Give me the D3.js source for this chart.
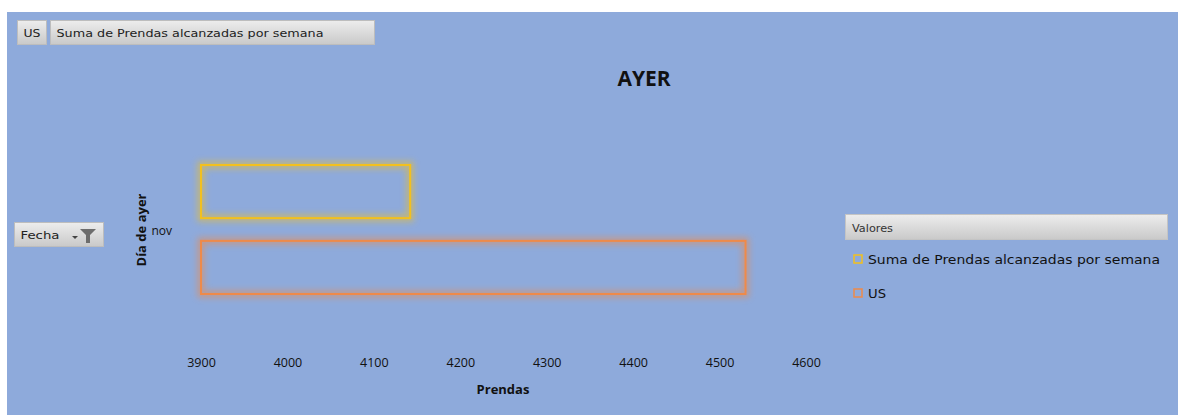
<!DOCTYPE html>
<html>
<head>
<meta charset="utf-8">
<script src="https://cdn.jsdelivr.net/npm/d3@7"></script>
<style>
  html, body { margin: 0; padding: 0; background: #ffffff; }
  svg { display: block; }
</style>
</head>
<body>
<svg id="chart" width="1178" height="415"></svg>
<script>
// Chart data
const categories = ["nov"];
const seriesNames = ["Suma de Prendas alcanzadas por semana", "US"];
const seriesValues = [4142, 4530];          // one value per series for "nov"
const seriesColors = ["#f2c01e", "#ee8a4a"];
const xTicks = [3900, 4000, 4100, 4200, 4300, 4400, 4500, 4600];

const svg = d3.select("#chart");
const font = "'Open Sans', 'DejaVu Sans', sans-serif";
const uiFont = "'DejaVu Sans', sans-serif";

// Background panel
svg.append("rect").attr("x", 7).attr("y", 12).attr("width", 1171).attr("height", 403)
  .attr("fill", "#8eaadb");

// Glow filter for bar outlines
const defs = svg.append("defs");
const f = defs.append("filter").attr("id", "glow")
  .attr("x", "-10%").attr("y", "-40%").attr("width", "120%").attr("height", "180%");
f.append("feGaussianBlur").attr("stdDeviation", 3);

// Button gradient
const g = defs.append("linearGradient").attr("id", "btn").attr("x1", 0).attr("y1", 0).attr("x2", 0).attr("y2", 1);
g.append("stop").attr("offset", "0%").attr("stop-color", "#ededed");
g.append("stop").attr("offset", "100%").attr("stop-color", "#c9c9c9");

function button(x, y, w, h, label, textLen) {
  svg.append("rect").attr("x", x).attr("y", y).attr("width", w).attr("height", h)
    .attr("fill", "url(#btn)").attr("stroke", "#bdbdbd").attr("stroke-width", 1);
  const t = svg.append("text").attr("x", x + 6).attr("y", y + h / 2 + 4)
    .attr("font-family", uiFont).attr("font-size", 11).attr("fill", "#222")
    .text(label);
  if (textLen) t.attr("textLength", textLen).attr("lengthAdjust", "spacingAndGlyphs");
}

// Field buttons (top row)
button(17.5, 20.5, 29, 24, "US", 17);
button(50.5, 20.5, 324, 24, "Suma de Prendas alcanzadas por semana", 267);

// Filter button on the left
button(14.5, 222.5, 89, 24, "Fecha", 39);
const fx = 72, fy = 229;
svg.append("path").attr("d", `M${fx},${fy + 7}h6l-3,3z`).attr("fill", "#444");
svg.append("path")
  .attr("d", `M${fx + 8},${fy}h16l-6,6v8h-4v-8z`)
  .attr("fill", "#6d6d6d");

// Scales
const x = d3.scaleLinear().domain([3900, 4600]).range([201, 806]);
const y = d3.scaleBand().domain(categories).range([140, 320]);
const ySub = d3.scaleBand().domain(seriesNames).range([165, 294]).paddingInner(0.30);

// Title
svg.append("text").attr("x", 644).attr("y", 86).attr("text-anchor", "middle")
  .attr("font-family", font).attr("font-weight", "bold").attr("font-size", 21)
  .attr("fill", "#111").text("AYER");

// Bars (outline only, with glow)
const bars = svg.append("g");
categories.forEach(cat => {
  seriesNames.forEach((s, i) => {
    const x0 = x(3900), x1 = x(seriesValues[i]);
    const yy = ySub(s), h = ySub.bandwidth();
    bars.append("rect").attr("x", x0).attr("y", yy).attr("width", x1 - x0).attr("height", h)
      .attr("fill", "none").attr("stroke", seriesColors[i]).attr("stroke-width", 7)
      .attr("opacity", 0.55).attr("filter", "url(#glow)");
    bars.append("rect").attr("x", x0).attr("y", yy).attr("width", x1 - x0).attr("height", h)
      .attr("fill", "none").attr("stroke", seriesColors[i]).attr("stroke-width", 2);
  });
});

// X axis (labels only)
const xAxis = d3.axisBottom(x).tickValues(xTicks).tickSize(0).tickFormat(d3.format("d"));
const xg = svg.append("g").attr("transform", "translate(0,355)").call(xAxis);
xg.select(".domain").remove();
xg.selectAll("text").attr("font-family", font).attr("font-size", 12.5).attr("fill", "#111");

svg.append("text").attr("x", 503).attr("y", 394).attr("text-anchor", "middle")
  .attr("font-family", font).attr("font-weight", "bold").attr("font-size", 13)
  .attr("fill", "#111").text("Prendas");

// Y axis (category label only)
const yAxis = d3.axisLeft(y).tickSize(0).tickPadding(0);
const yg = svg.append("g").attr("transform", "translate(172,0)").call(yAxis);
yg.select(".domain").remove();
yg.selectAll("text").attr("font-family", font).attr("font-size", 12).attr("fill", "#111")
  .attr("dy", "0.45em");

svg.append("text").attr("transform", "translate(146,230) rotate(-90)").attr("text-anchor", "middle")
  .attr("font-family", font).attr("font-weight", "bold").attr("font-size", 13)
  .attr("fill", "#111").text("Día de ayer");

// Legend
svg.append("rect").attr("x", 845.5).attr("y", 214.5).attr("width", 322).attr("height", 25)
  .attr("fill", "url(#btn)").attr("stroke", "#c4c4c4");
svg.append("text").attr("x", 852).attr("y", 232).attr("font-family", uiFont)
  .attr("font-size", 11).attr("fill", "#333")
  .attr("textLength", 41).attr("lengthAdjust", "spacingAndGlyphs").text("Valores");

const leg = svg.append("g");
const legLens = [292, 18];
seriesNames.forEach((s, i) => {
  const ly = 259 + i * 34;
  leg.append("rect").attr("x", 854).attr("y", ly - 4).attr("width", 8).attr("height", 8)
    .attr("fill", "none").attr("stroke", seriesColors[i]).attr("stroke-width", 1.5);
  leg.append("text").attr("x", 868).attr("y", ly + 4.5).attr("font-family", uiFont)
    .attr("font-size", 12.5).attr("fill", "#111")
    .attr("textLength", legLens[i]).attr("lengthAdjust", "spacingAndGlyphs").text(s);
});
</script>
</body>
</html>
